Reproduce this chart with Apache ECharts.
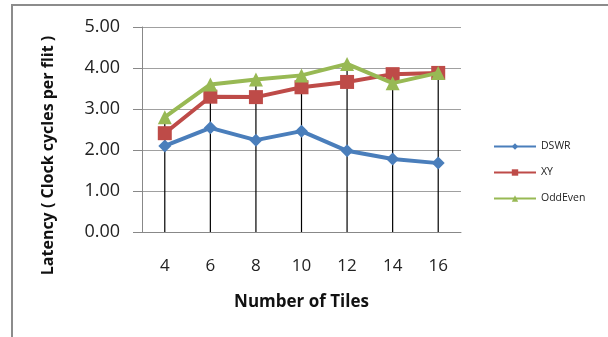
<!DOCTYPE html>
<html>
<head>
<meta charset="utf-8">
<script src="https://cdn.jsdelivr.net/npm/echarts@6/dist/echarts.min.js"></script>
<style>
html,body{margin:0;padding:0;background:#fff;}
#chart{width:608px;height:337px;}
</style>
</head>
<body>
<div id="chart"></div>
<script>
// Average latency per flit for three routing algorithms
const tiles = ['4', '6', '8', '10', '12', '14', '16'];
const dswr = [2.10, 2.54, 2.24, 2.46, 1.98, 1.78, 1.68];
const xy = [2.41, 3.30, 3.29, 3.53, 3.66, 3.85, 3.88];
const oddEven = [2.80, 3.60, 3.72, 3.82, 4.10, 3.63, 3.88];
const yTicks = [0, 1, 2, 3, 4, 5];

// Drop lines reach from the axis up to the highest point of each category
const dropTop = tiles.map((_, i) => Math.max(dswr[i], xy[i], oddEven[i]));

const font = 'Open Sans, DejaVu Sans, sans-serif';
const chart = echarts.init(document.getElementById('chart'));
chart.setOption({
  animation: false,
  graphic: [{
    type: 'polyline',
    shape: { points: [[12, 340], [12, 5], [610, 5]] },
    style: { stroke: '#8c8c8c', lineWidth: 2, fill: null }
  }],
  grid: { left: 142, right: 147, top: 27, bottom: 105 },
  legend: {
    orient: 'vertical',
    left: 488,
    top: 136,
    padding: 5,
    itemGap: 15,
    itemWidth: 42,
    itemHeight: 8,
    textStyle: { fontFamily: font, fontSize: 10.5, color: '#222' },
    data: ['DSWR', 'XY', 'OddEven']
  },
  xAxis: {
    type: 'category',
    data: tiles,
    boundaryGap: true,
    name: 'Number of Tiles',
    nameLocation: 'middle',
    nameGap: 62,
    nameTextStyle: { fontFamily: font, fontSize: 17, fontWeight: 'bold', color: '#111' },
    axisLine: { lineStyle: { color: '#888', width: 1 } },
    axisTick: { show: false },
    axisLabel: { fontFamily: font, fontSize: 17, color: '#222', margin: 26 }
  },
  yAxis: {
    type: 'value',
    min: yTicks[0],
    max: yTicks[yTicks.length - 1],
    interval: 1,
    name: 'Latency ( Clock cycles per flit )',
    nameLocation: 'middle',
    nameGap: 86,
    nameTextStyle: { fontFamily: font, fontSize: 16, fontWeight: 'bold', color: '#111',
      padding: [0, 52, 0, 0] },
    axisLine: { show: true, lineStyle: { color: '#888', width: 1 } },
    axisTick: { show: true, length: 9, lineStyle: { color: '#888' } },
    axisLabel: { fontFamily: font, fontSize: 18, color: '#222', margin: 22,
      formatter: v => v.toFixed(2) },
    splitLine: { lineStyle: { color: '#a0a0a0', width: 1 } }
  },
  series: [
    {
      name: 'drop',
      type: 'bar',
      data: dropTop,
      barWidth: 1.2,
      itemStyle: { color: '#000' },
      silent: true,
      z: 1
    },
    {
      name: 'DSWR',
      type: 'line',
      data: dswr,
      symbol: 'diamond',
      symbolSize: 13,
      lineStyle: { color: '#4a7ebb', width: 4 },
      itemStyle: { color: '#4a7ebb' },
      z: 3
    },
    {
      name: 'XY',
      type: 'line',
      data: xy,
      symbol: 'rect',
      symbolSize: 14,
      lineStyle: { color: '#be4b48', width: 4 },
      itemStyle: { color: '#be4b48' },
      z: 3
    },
    {
      name: 'OddEven',
      type: 'line',
      data: oddEven,
      symbol: 'triangle',
      symbolSize: 14,
      lineStyle: { color: '#98b954', width: 4 },
      itemStyle: { color: '#98b954' },
      z: 4
    }
  ]
});
</script>
</body>
</html>
